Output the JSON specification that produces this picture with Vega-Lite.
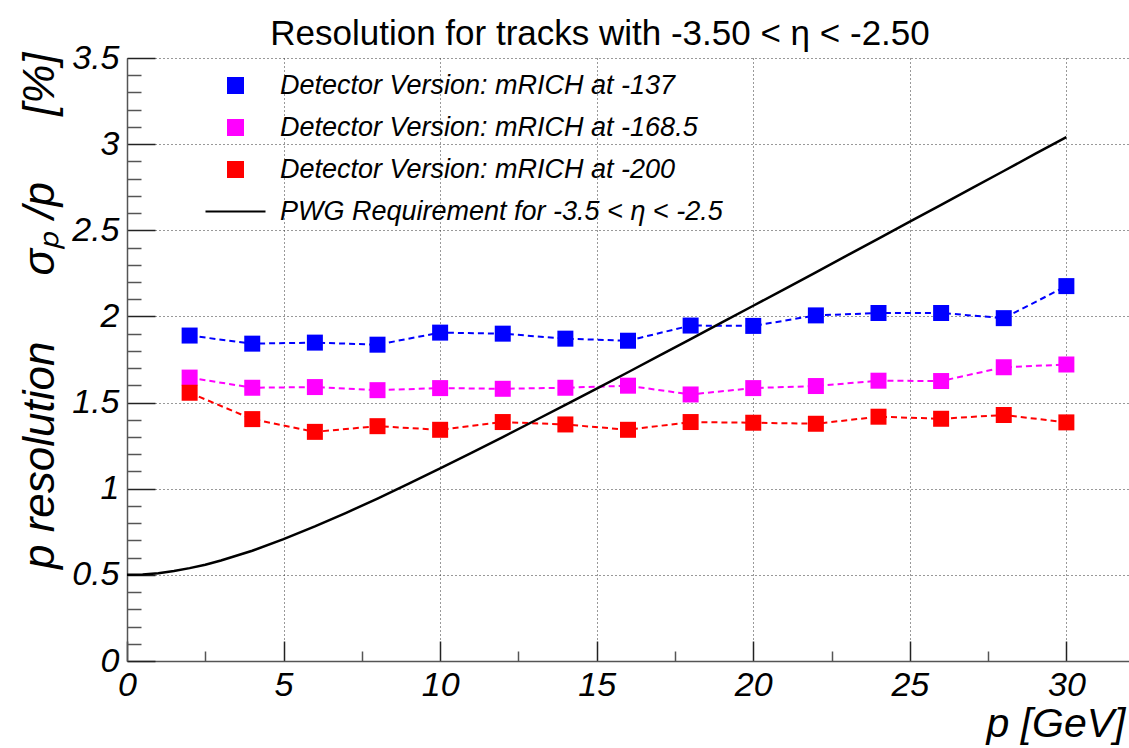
{
  "$schema": "https://vega.github.io/schema/vega-lite/v6.json",
  "width": 1002,
  "height": 603,
  "autosize": {"type": "none"},
  "padding": {"left": 127, "top": 58, "right": 0, "bottom": 87},
  "background": "white",
  "config": {"view": {"stroke": null}, "font": "Liberation Sans"},
  "title": {
    "text": "Resolution for tracks with -3.50 < η < -2.50",
    "font": "Liberation Sans",
    "fontSize": 35,
    "fontWeight": "normal",
    "color": "black",
    "anchor": "middle",
    "dx": -28,
    "offset": -11
  },
  "resolve": {"axis": {"x": "independent", "y": "independent"}},
  "datasets": {
    "det": [
      {"p": 2, "res": 1.889, "series": "Detector Version: mRICH at -137"},
      {"p": 4, "res": 1.842, "series": "Detector Version: mRICH at -137"},
      {"p": 6, "res": 1.848, "series": "Detector Version: mRICH at -137"},
      {"p": 8, "res": 1.836, "series": "Detector Version: mRICH at -137"},
      {"p": 10, "res": 1.906, "series": "Detector Version: mRICH at -137"},
      {"p": 12, "res": 1.9, "series": "Detector Version: mRICH at -137"},
      {"p": 14, "res": 1.871, "series": "Detector Version: mRICH at -137"},
      {"p": 16, "res": 1.859, "series": "Detector Version: mRICH at -137"},
      {"p": 18, "res": 1.947, "series": "Detector Version: mRICH at -137"},
      {"p": 20, "res": 1.945, "series": "Detector Version: mRICH at -137"},
      {"p": 22, "res": 2.006, "series": "Detector Version: mRICH at -137"},
      {"p": 24, "res": 2.02, "series": "Detector Version: mRICH at -137"},
      {"p": 26, "res": 2.02, "series": "Detector Version: mRICH at -137"},
      {"p": 28, "res": 1.99, "series": "Detector Version: mRICH at -137"},
      {"p": 30, "res": 2.176, "series": "Detector Version: mRICH at -137"},
      {"p": 2, "res": 1.645, "series": "Detector Version: mRICH at -168.5"},
      {"p": 4, "res": 1.586, "series": "Detector Version: mRICH at -168.5"},
      {"p": 6, "res": 1.59, "series": "Detector Version: mRICH at -168.5"},
      {"p": 8, "res": 1.572, "series": "Detector Version: mRICH at -168.5"},
      {"p": 10, "res": 1.584, "series": "Detector Version: mRICH at -168.5"},
      {"p": 12, "res": 1.58, "series": "Detector Version: mRICH at -168.5"},
      {"p": 14, "res": 1.586, "series": "Detector Version: mRICH at -168.5"},
      {"p": 16, "res": 1.598, "series": "Detector Version: mRICH at -168.5"},
      {"p": 18, "res": 1.547, "series": "Detector Version: mRICH at -168.5"},
      {"p": 20, "res": 1.584, "series": "Detector Version: mRICH at -168.5"},
      {"p": 22, "res": 1.596, "series": "Detector Version: mRICH at -168.5"},
      {"p": 24, "res": 1.627, "series": "Detector Version: mRICH at -168.5"},
      {"p": 26, "res": 1.625, "series": "Detector Version: mRICH at -168.5"},
      {"p": 28, "res": 1.705, "series": "Detector Version: mRICH at -168.5"},
      {"p": 30, "res": 1.721, "series": "Detector Version: mRICH at -168.5"},
      {"p": 2, "res": 1.557, "series": "Detector Version: mRICH at -200"},
      {"p": 4, "res": 1.404, "series": "Detector Version: mRICH at -200"},
      {"p": 6, "res": 1.33, "series": "Detector Version: mRICH at -200"},
      {"p": 8, "res": 1.363, "series": "Detector Version: mRICH at -200"},
      {"p": 10, "res": 1.342, "series": "Detector Version: mRICH at -200"},
      {"p": 12, "res": 1.387, "series": "Detector Version: mRICH at -200"},
      {"p": 14, "res": 1.373, "series": "Detector Version: mRICH at -200"},
      {"p": 16, "res": 1.342, "series": "Detector Version: mRICH at -200"},
      {"p": 18, "res": 1.387, "series": "Detector Version: mRICH at -200"},
      {"p": 20, "res": 1.383, "series": "Detector Version: mRICH at -200"},
      {"p": 22, "res": 1.377, "series": "Detector Version: mRICH at -200"},
      {"p": 24, "res": 1.418, "series": "Detector Version: mRICH at -200"},
      {"p": 26, "res": 1.406, "series": "Detector Version: mRICH at -200"},
      {"p": 28, "res": 1.428, "series": "Detector Version: mRICH at -200"},
      {"p": 30, "res": 1.385, "series": "Detector Version: mRICH at -200"}
    ],
    "pwg": [
      {"p": 0, "res": 0.5, "series": "PWG Requirement for -3.5 < η < -2.5"},
      {"p": 0.5, "res": 0.5025, "series": "PWG Requirement for -3.5 < η < -2.5"},
      {"p": 1, "res": 0.51, "series": "PWG Requirement for -3.5 < η < -2.5"},
      {"p": 1.5, "res": 0.522, "series": "PWG Requirement for -3.5 < η < -2.5"},
      {"p": 2, "res": 0.539, "series": "PWG Requirement for -3.5 < η < -2.5"},
      {"p": 2.5, "res": 0.559, "series": "PWG Requirement for -3.5 < η < -2.5"},
      {"p": 3, "res": 0.583, "series": "PWG Requirement for -3.5 < η < -2.5"},
      {"p": 4, "res": 0.64, "series": "PWG Requirement for -3.5 < η < -2.5"},
      {"p": 5, "res": 0.707, "series": "PWG Requirement for -3.5 < η < -2.5"},
      {"p": 6, "res": 0.781, "series": "PWG Requirement for -3.5 < η < -2.5"},
      {"p": 7, "res": 0.86, "series": "PWG Requirement for -3.5 < η < -2.5"},
      {"p": 8, "res": 0.943, "series": "PWG Requirement for -3.5 < η < -2.5"},
      {"p": 9, "res": 1.03, "series": "PWG Requirement for -3.5 < η < -2.5"},
      {"p": 10, "res": 1.118, "series": "PWG Requirement for -3.5 < η < -2.5"},
      {"p": 11, "res": 1.208, "series": "PWG Requirement for -3.5 < η < -2.5"},
      {"p": 12, "res": 1.3, "series": "PWG Requirement for -3.5 < η < -2.5"},
      {"p": 13, "res": 1.393, "series": "PWG Requirement for -3.5 < η < -2.5"},
      {"p": 14, "res": 1.487, "series": "PWG Requirement for -3.5 < η < -2.5"},
      {"p": 15, "res": 1.581, "series": "PWG Requirement for -3.5 < η < -2.5"},
      {"p": 16, "res": 1.676, "series": "PWG Requirement for -3.5 < η < -2.5"},
      {"p": 17, "res": 1.772, "series": "PWG Requirement for -3.5 < η < -2.5"},
      {"p": 18, "res": 1.868, "series": "PWG Requirement for -3.5 < η < -2.5"},
      {"p": 19, "res": 1.965, "series": "PWG Requirement for -3.5 < η < -2.5"},
      {"p": 20, "res": 2.062, "series": "PWG Requirement for -3.5 < η < -2.5"},
      {"p": 21, "res": 2.159, "series": "PWG Requirement for -3.5 < η < -2.5"},
      {"p": 22, "res": 2.256, "series": "PWG Requirement for -3.5 < η < -2.5"},
      {"p": 23, "res": 2.354, "series": "PWG Requirement for -3.5 < η < -2.5"},
      {"p": 24, "res": 2.452, "series": "PWG Requirement for -3.5 < η < -2.5"},
      {"p": 25, "res": 2.55, "series": "PWG Requirement for -3.5 < η < -2.5"},
      {"p": 26, "res": 2.648, "series": "PWG Requirement for -3.5 < η < -2.5"},
      {"p": 27, "res": 2.746, "series": "PWG Requirement for -3.5 < η < -2.5"},
      {"p": 28, "res": 2.844, "series": "PWG Requirement for -3.5 < η < -2.5"},
      {"p": 29, "res": 2.943, "series": "PWG Requirement for -3.5 < η < -2.5"},
      {"p": 30, "res": 3.041, "series": "PWG Requirement for -3.5 < η < -2.5"}
    ]
  },
  "layer": [
    {
      "data": {"name": "det"},
      "mark": {"type": "line", "strokeDash": [6, 4], "strokeWidth": 2},
      "encoding": {
        "x": {
          "field": "p", "type": "quantitative",
          "scale": {"domain": [0, 32], "nice": false, "zero": false},
          "axis": {
            "orient": "bottom",
            "values": [0, 5, 10, 15, 20, 25, 30],
            "labelExpr": "'' + datum.value",
            "labelFont": "Liberation Sans",
            "labelFontSize": 34,
            "labelFontStyle": "italic",
            "labelColor": "black",
            "labelPadding": 27,
            "labelOverlap": false,
            "labelFlush": false,
            "ticks": true,
            "tickSize": -20,
            "tickColor": "#222222",
            "tickWidth": 1.5,
            "domainColor": "#555555",
            "domainWidth": 1.5,
            "grid": true,
            "gridDash": [1, 3],
            "gridColor": "#333333",
            "gridWidth": 1,
            "title": "p [GeV]",
            "titleFont": "Liberation Sans",
            "titleFontSize": 41,
            "titleFontStyle": "italic",
            "titleFontWeight": "normal",
            "titleColor": "black",
            "titleAnchor": "end",
            "titleAlign": "right",
            "titleBaseline": "alphabetic",
            "titleX": 998,
            "titleY": 75
          }
        },
        "y": {
          "field": "res", "type": "quantitative",
          "scale": {"domain": [0, 3.5], "nice": false, "zero": false},
          "axis": {
            "orient": "left",
            "values": [0, 0.5, 1, 1.5, 2, 2.5, 3, 3.5],
            "labelExpr": "'' + datum.value",
            "labelFont": "Liberation Sans",
            "labelFontSize": 34,
            "labelFontStyle": "italic",
            "labelColor": "black",
            "labelPadding": 36,
            "labelOverlap": false,
            "labelFlush": false,
            "ticks": true,
            "tickSize": -28,
            "tickColor": "#222222",
            "tickWidth": 1.5,
            "domainColor": "#555555",
            "domainWidth": 1.5,
            "grid": true,
            "gridDash": [1, 3],
            "gridColor": "#333333",
            "gridWidth": 1,
            "title": "p resolution\u2003\u2002σₚ /p\u2003\u2002[%]",
            "titleFont": "Liberation Sans",
            "titleFontSize": 44,
            "titleFontStyle": "italic",
            "titleFontWeight": "normal",
            "titleColor": "black",
            "titleAngle": 270,
            "titleAnchor": "end",
            "titleAlign": "right",
            "titleBaseline": "alphabetic",
            "titleX": -74,
            "titleY": -6
          }
        },
        "color": {
          "field": "series", "type": "nominal",
          "scale": {
            "domain": ["Detector Version: mRICH at -137", "Detector Version: mRICH at -168.5", "Detector Version: mRICH at -200", "PWG Requirement for -3.5 < η < -2.5"],
            "range": ["#0000ff", "#ff00ff", "#ff0000", "#000000"]
          },
          "legend": {
            "orient": "none",
            "legendX": 95,
            "legendY": 14,
            "title": null,
            "padding": 0,
            "symbolSize": 225,
            "symbolStrokeWidth": 2,
            "labelFont": "Liberation Sans",
            "labelFontSize": 27,
            "labelFontStyle": "italic",
            "labelColor": "black",
            "labelOffset": 31,
            "labelLimit": 1000,
            "rowPadding": 14
          }
        }
      }
    },
    {
      "data": {"name": "det"},
      "mark": {"type": "point", "filled": true, "size": 256, "opacity": 1},
      "encoding": {
        "x": {
          "field": "p", "type": "quantitative",
          "axis": {
            "orient": "bottom",
            "values": [2.5, 7.5, 12.5, 17.5, 22.5, 27.5],
            "labels": false,
            "domain": false,
            "grid": false,
            "title": null,
            "ticks": true,
            "tickSize": -10,
            "tickColor": "#555555",
            "tickWidth": 1.5
          }
        },
        "y": {
          "field": "res", "type": "quantitative",
          "axis": {
            "orient": "left",
            "values": [0.1, 0.2, 0.3, 0.4, 0.6, 0.7, 0.8, 0.9, 1.1, 1.2, 1.3, 1.4, 1.6, 1.7, 1.8, 1.9, 2.1, 2.2, 2.3, 2.4, 2.6, 2.7, 2.8, 2.9, 3.1, 3.2, 3.3, 3.4],
            "labels": false,
            "domain": false,
            "grid": false,
            "title": null,
            "ticks": true,
            "tickSize": -14,
            "tickColor": "#555555",
            "tickWidth": 1.5
          }
        },
        "color": {"field": "series", "type": "nominal"},
        "shape": {
          "field": "series", "type": "nominal",
          "scale": {
            "domain": ["Detector Version: mRICH at -137", "Detector Version: mRICH at -168.5", "Detector Version: mRICH at -200", "PWG Requirement for -3.5 < η < -2.5"],
            "range": ["square", "square", "square", "M-4,0H4"]
          }
        }
      }
    },
    {
      "data": {"name": "pwg"},
      "mark": {"type": "line", "strokeWidth": 2.5},
      "encoding": {
        "x": {"field": "p", "type": "quantitative", "axis": null},
        "y": {"field": "res", "type": "quantitative", "axis": null},
        "color": {"field": "series", "type": "nominal"}
      }
    }
  ]
}
